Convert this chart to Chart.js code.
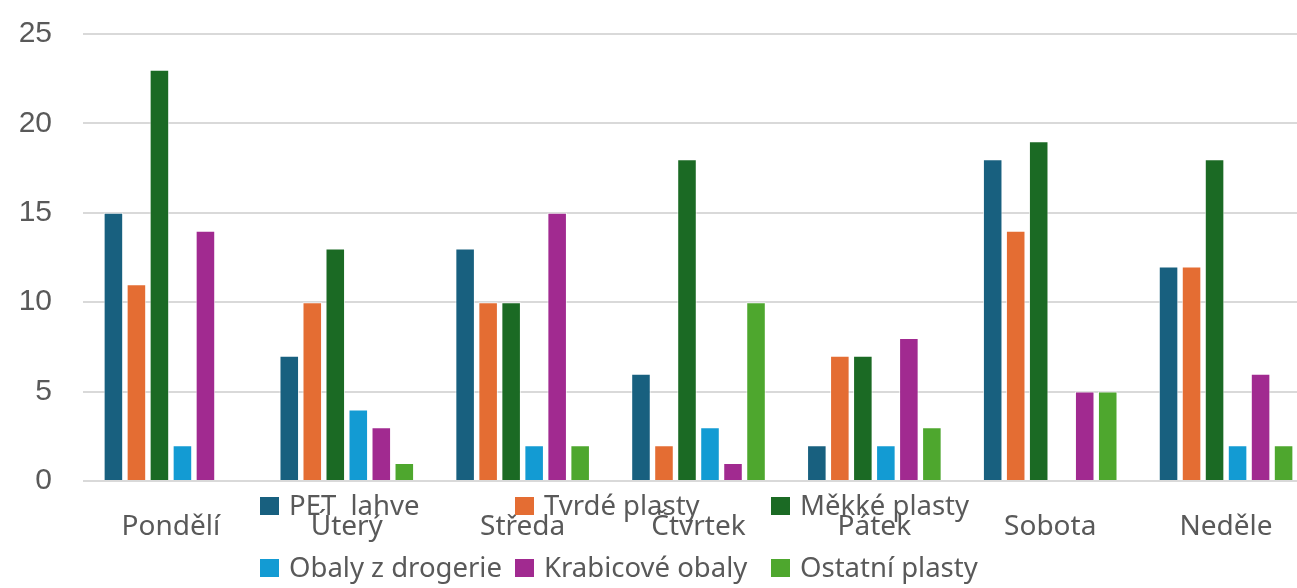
<!DOCTYPE html>
<html>
<head>
<meta charset="utf-8">
<script src="https://cdn.jsdelivr.net/npm/chart.js@4/dist/chart.umd.min.js"></script>
<style>
	html, body { margin: 0; padding: 0; background: #fff; overflow: hidden; }
	#wrapper { width: 1297px; height: 588px; overflow: hidden; }
	#grafico { display: block; }
</style>
</head>
<body>
<div id="wrapper"><canvas id="grafico" width="1314" height="588"></canvas></div>
<script>
const dny = ["Pondělí", "Úterý", "Středa", "Čtvrtek", "Pátek", "Sobota", "Neděle"];
const petLahve = [15, 7, 13, 6, 2, 18, 12];
const tvrdePlasty = [11, 10, 10, 2, 7, 14, 12];
const mekkePlasty = [23, 13, 10, 18, 7, 19, 18];
const obalyDrogerie = [2, 4, 2, 3, 2, 0, 2];
const krabicoveObaly = [14, 3, 15, 1, 8, 5, 6];
const ostatniPlasty = [0, 1, 2, 10, 3, 5, 2];
const yTicks = [0, 5, 10, 15, 20, 25];

const FONT = "'Noto Sans', sans-serif";
const TEXT = "#595959";

function serie(nome, valori, colore) {
	return {
		label: nome,
		data: valori,
		backgroundColor: colore,
		borderColor: "rgba(255,255,255,0.7)",
		borderWidth: 1,
		categoryPercentage: 0.785,
		barPercentage: 0.85
	};
}

// legenda a colonne, disegnata sopra i popisky osy x (jako v originale)
const legendaPlugin = {
	id: "legenda",
	afterDraw(chart) {
		let ctx = chart.ctx;
		let colX = [260, 515, 771];
		let rowY = [506, 568];
		ctx.save();
		ctx.font = "27.5px " + FONT;
		ctx.textBaseline = "middle";
		ctx.textAlign = "left";
		chart.data.datasets.forEach((ds, i) => {
			let x = colX[i % 3];
			let y = rowY[Math.floor(i / 3)];
			ctx.fillStyle = ds.backgroundColor;
			ctx.fillRect(x, y - 9, 19, 18);
			ctx.fillStyle = TEXT;
			ctx.fillText(ds.label, x + 29, y + 1);
		});
		ctx.restore();
	}
};

window.onload = function () {
	let canvas = document.getElementById("grafico");
	let data = {
		type: "bar",
		data: {
			labels: dny,
			datasets: [
				serie("PET  lahve", petLahve, "#18607f"),
				serie("Tvrdé plasty", tvrdePlasty, "#e46d33"),
				serie("Měkké plasty", mekkePlasty, "#1b6a24"),
				serie("Obaly z drogerie", obalyDrogerie, "#139bd3"),
				serie("Krabicové obaly", krabicoveObaly, "#a12a90"),
				serie("Ostatní plasty", ostatniPlasty, "#4ea72e")
			]
		},
		options: {
			responsive: false,
			animation: false,
			layout: { padding: { top: 34, right: 0, bottom: 0, left: 0 } },
			plugins: {
				legend: { display: false },
				tooltip: { enabled: false }
			},
			scales: {
				x: {
					grid: { display: false },
					border: { display: false },
					ticks: {
						color: TEXT,
						font: { family: FONT, size: 28 },
						padding: 21,
						maxRotation: 0
					},
					afterFit(scale) { scale.height = 107; }
				},
				y: {
					min: 0,
					max: 25,
					afterBuildTicks(scale) { scale.ticks = yTicks.map(v => ({ value: v })); },
					grid: { color: "#d9d9d9", lineWidth: 2, drawTicks: false },
					border: { display: false },
					ticks: {
						color: TEXT,
						font: { family: "'Liberation Sans', Arial, sans-serif", size: 30 },
						padding: 31
					},
					afterFit(scale) {
						scale.width = 83;
						scale.paddingTop = 0;
						scale.paddingBottom = 0;
					}
				}
			}
		},
		plugins: [legendaPlugin]
	};
	new Chart(canvas, data);
};
</script>
</body>
</html>
